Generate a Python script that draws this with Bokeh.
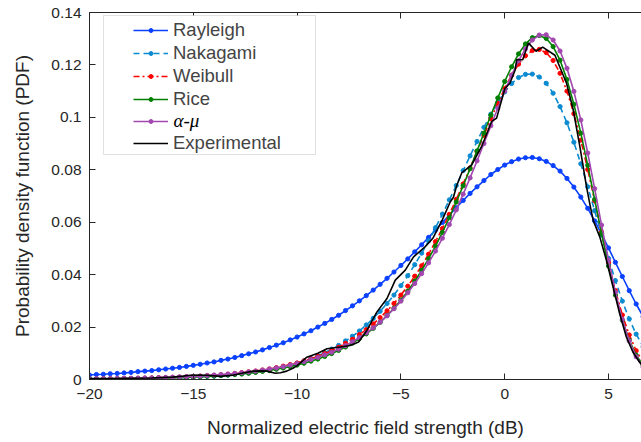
import numpy as np
from bokeh.plotting import figure
from bokeh.models import (LinearAxis, FixedTicker, CustomJSTickFormatter, Legend,
                          LegendItem, BoxAnnotation, Label)
from bokeh.embed import file_html
from bokeh.resources import INLINE

# sampling grid of the fitted curves (dB), one marker every 1/3 dB
x_db = np.round(np.arange(-20, 7.01, 1/3), 3)

# fitted PDFs, in units of 1e-4
rayleigh_e4 = [17,19,20,22,23,25,27,30,32,34,37,40,43,46,50,54,58,63,67,73,78,84,91,98,105,113,122,131,
               140,151,162,174,186,200,214,229,245,263,281,300,320,341,363,386,410,435,460,487,514,542,
               570,599,627,655,683,710,735,759,782,801,818,831,841,846,847,842,832,816,795,767,734,696,
               653,605,555,502,447,393,339,288,240,196]
nakagami_e4 = [1,1,2,2,2,2,3,3,4,4,5,5,6,7,8,9,10,12,13,15,17,20,22,25,29,33,38,43,48,55,62,71,80,91,
               102,116,130,147,165,185,208,233,260,290,322,358,396,438,482,529,579,631,685,740,797,853,
               908,962,1012,1057,1097,1129,1152,1164,1165,1154,1130,1092,1041,979,905,823,735,644,551,
               462,377,299,231,173,125,87]
weibull_e4 = [2,2,3,3,3,4,4,5,5,6,7,7,8,9,10,12,13,15,16,18,20,23,26,29,32,36,40,45,51,57,63,71,79,88,
              99,110,123,138,153,171,190,212,236,262,290,322,356,394,434,478,526,576,630,687,746,807,870,
              932,995,1054,1110,1161,1203,1235,1255,1259,1247,1217,1168,1100,1014,913,801,682,562,446,
              339,246,170,110,67,38]
rice_e4 = [2,2,2,2,3,3,3,4,4,5,5,6,7,7,8,9,11,12,13,15,17,19,21,24,27,31,34,39,44,49,55,62,70,78,88,99,
           111,124,139,156,174,195,218,244,272,303,337,375,416,461,509,561,617,677,739,804,872,940,1008,
           1074,1137,1193,1242,1280,1304,1312,1301,1270,1218,1144,1050,940,817,687,557,433,322,226,150,
           93,54,28]
alphamu_e4 = [2,3,3,3,4,4,5,5,6,6,7,8,9,10,11,12,13,15,17,19,21,23,26,29,32,36,40,44,49,55,61,68,76,84,
              94,104,116,129,144,160,178,197,219,243,270,299,331,366,404,445,490,539,591,647,707,769,834,
              900,968,1035,1100,1161,1216,1261,1295,1314,1315,1295,1253,1187,1099,990,864,728,589,455,
              333,229,147,87,47,23]

# measured (experimental) curve
exp_x = [-20.0, -19.0, -18.0, -17.0, -16.0, -15.5, -15.15, -14.7, -14.35, -13.7, -13.1, -12.6,
         -12.1, -11.7, -11.45, -11.05, -10.8, -10.5, -10.2, -10.0, -9.8, -9.53, -9.0, -8.56,
         -7.92, -7.44, -7.04, -6.64, -6.16, -5.67, -5.27, -4.79, -4.39, -3.85, -3.45, -3.0,
         -2.62, -2.47, -2.31, -2.07, -1.59, -1.11, -0.63, -0.39, 0.01, 0.25, 0.5, 0.58, 0.87,
         1.14, 1.51, 1.83, 2.42, 2.98, 3.3, 3.62, 3.94, 4.1, 4.26, 4.58, 4.9, 5.22, 5.54, 5.86,
         6.18, 6.5, 6.8]
exp_y = [0.0004, 0.0004, 0.0005, 0.0006, 0.0009, 0.0013, 0.0016, 0.0017, 0.0016, 0.0012, 0.0016,
         0.0025, 0.0032, 0.0033, 0.0032, 0.0024, 0.0026, 0.0032, 0.0043, 0.0053, 0.0066, 0.0085,
         0.0100, 0.0117, 0.0124, 0.0130, 0.0143, 0.0187, 0.0257, 0.0309, 0.0379, 0.0417, 0.0468,
         0.0505, 0.0540, 0.0610, 0.0678, 0.0695, 0.0740, 0.0788, 0.0819, 0.0889, 0.0984, 0.0997,
         0.1110, 0.1130, 0.1180, 0.1220, 0.1220, 0.1284, 0.1252, 0.1268, 0.1237, 0.1130, 0.1029,
         0.0889, 0.0736, 0.0670, 0.0608, 0.0544, 0.0455, 0.0353, 0.0251, 0.0162, 0.0104, 0.0066,
         0.0040]

x_ticks = [-20, -15, -10, -5, 0, 5]
y_ticks = [0, 0.02, 0.04, 0.06, 0.08, 0.1, 0.12, 0.14]

FONT = "Liberation Sans"
AX = "#262626"
xt = FixedTicker(ticks=x_ticks)
yt = FixedTicker(ticks=y_ticks)

p = figure(width=641, height=442, output_backend="svg", toolbar_location=None,
           x_range=(-20, 6.59), y_range=(0, 0.14), x_axis_location=None, y_axis_location=None,
           min_border_left=89, min_border_right=0, min_border_top=12, min_border_bottom=63)
p.outline_line_color = None
p.grid.visible = False
p.background_fill_color = "white"
p.border_fill_color = "white"

bottom = LinearAxis(ticker=xt, axis_label="Normalized electric field strength (dB)")
left = LinearAxis(ticker=yt, axis_label="Probability density function (PDF)",
                  formatter=CustomJSTickFormatter(code="return (Math.round(tick*100)/100).toString();"))
top = LinearAxis(ticker=xt)
for ax in [bottom, left, top]:
    ax.major_tick_in = 6
    ax.major_tick_out = 0
    ax.minor_tick_line_color = None
    ax.axis_line_color = AX
    ax.major_tick_line_color = AX
    ax.major_label_text_color = AX
    ax.major_label_text_font = FONT
    ax.major_label_text_font_size = "15.5px"
    ax.axis_label_text_font = FONT
    ax.axis_label_text_font_size = "19px"
    ax.axis_label_text_font_style = "normal"
    ax.axis_label_text_color = AX
top.major_label_text_color = None
top.major_label_text_font_size = "1px"
top.major_label_standoff = 0
bottom.major_label_standoff = 9
left.major_label_standoff = 8
bottom.axis_label_standoff = 15
left.axis_label_standoff = 15
p.add_layout(bottom, "below")
p.add_layout(left, "left")
p.add_layout(top, "above")

LW = 1.6
MS = 4.2
series = [
    ("Rayleigh", rayleigh_e4, "#0a40ff", "solid"),
    ("Nakagami", nakagami_e4, "#0a8ad0", "6 4"),
    ("Weibull", weibull_e4, "#ff0000", "6 3 2 3"),
    ("Rice", rice_e4, "#008000", "solid"),
    ("\u03b1-\u03bc", alphamu_e4, "#a347b0", "solid"),
]
items = []
for name, vals, col, dash in series:
    ys = np.array(vals) / 1e4
    rl = p.line(x_db, ys, line_color=col, line_width=LW, line_dash=dash)
    rs = p.scatter(x_db, ys, size=MS, fill_color=col, line_color=col, marker="circle")
    # the alpha-mu label is written separately below in math italics
    items.append(LegendItem(label=name if name != "\u03b1-\u03bc" else " ", renderers=[rl, rs]))
re = p.line(exp_x, exp_y, line_color="black", line_width=LW)
items.append(LegendItem(label="Experimental", renderers=[re]))

box = BoxAnnotation(left=103, right=315, top=15, bottom=154,
                    left_units="canvas", right_units="canvas", top_units="canvas", bottom_units="canvas",
                    fill_color="white", fill_alpha=1, line_color="#999999", line_width=1)
p.add_layout(box)
legend = Legend(items=items, location=(44, 225), padding=0, spacing=1, label_height=20,
                glyph_height=10, glyph_width=35, label_standoff=5, border_line_color=None,
                background_fill_alpha=0, label_text_font=FONT, label_text_font_size="18.5px",
                margin=0)
p.add_layout(legend)
am_label = Label(x=173, y=120, x_units="canvas", y_units="canvas", text="\u03b1-\u03bc",
                 text_font="Liberation Serif", text_font_style="italic", text_font_size="19px",
                 text_baseline="middle", text_align="left", text_color="black")
p.add_layout(am_label)

open("out.html", "w").write(file_html(p, INLINE))
